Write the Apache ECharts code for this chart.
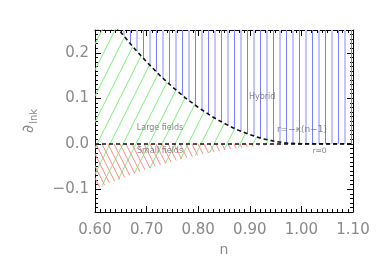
<!DOCTYPE html>
<html><head><meta charset="utf-8">
<script src="https://cdn.jsdelivr.net/npm/echarts@6/dist/echarts.min.js"></script>
<style>html,body{margin:0;padding:0;background:#fff}#c{width:382px;height:273px}</style>
</head><body><div id="c"></div>
<script>
// spectral index n
const nValues = [0.600,0.625,0.650,0.675,0.700,0.725,0.750,0.775,0.800,0.825,0.850,0.875,0.900,0.925,0.950,0.975,1.000,1.025,1.050,1.075,1.100];
// upper boundary (dashed curve, Large fields / Hybrid)
const upperBound = [0.320,0.281,0.245,0.211,0.180,0.151,0.125,0.101,0.080,0.061,0.045,0.031,0.020,0.011,0.005,0.001,0,0,0,0,0];
// lower boundary (Small fields)
const lowerBound = [-0.100,-0.088,-0.077,-0.066,-0.056,-0.047,-0.039,-0.032,-0.025,-0.019,-0.014,-0.010,-0.006,-0.004,-0.002,-0.0004,0,0,0,0,0];
const xTickValues = [0.6,0.7,0.8,0.9,1.0,1.1];
const yTickValues = [-0.1,0.0,0.1,0.2];

function hatch(w,h,draw){
  const c=document.createElement('canvas'); c.width=w; c.height=h;
  const g=c.getContext('2d'); draw(g,w,h); return c;
}
const greenPat = hatch(13,26,(g,w,h)=>{g.strokeStyle='#7cf07c';g.lineWidth=1;g.beginPath();
  for(let k=-1;k<=1;k++){g.moveTo(k*w,h);g.lineTo(k*w+w,0);} g.stroke();});
const redPat = hatch(6,12,(g,w,h)=>{g.strokeStyle='#ff8a8a';g.lineWidth=1;g.beginPath();
  for(let k=-1;k<=1;k++){g.moveTo(k*w,0);g.lineTo(k*w+w,h);} g.stroke();});
const bluePat = hatch(13,4,(g,w,h)=>{g.fillStyle='#7c7cff';g.fillRect(0,0,1,h);
  g.fillStyle='#c4c4ff';g.fillRect(6,0,2,h);});

const pairs = arr => nValues.map((n,i)=>[n,arr[i]]);

const labelFont = {fontFamily:'DejaVu Sans', fontSize:15, color:'#8a8a8a'};
const xBase = {type:'value', min:0.6, max:1.1, interval:0.1, gridIndex:0,
  axisLine:{onZero:false,lineStyle:{color:'#000',width:1}}, splitLine:{show:false},
  axisTick:{inside:true,length:6,lineStyle:{color:'#000'}},
  minorTick:{show:true,splitNumber:10,length:3,lineStyle:{color:'#000'}}};
const yMinor = {type:'value', min:-0.15, max:0.25, interval:0.01, splitLine:{show:false},
  axisLine:{onZero:false,lineStyle:{color:'#000',width:1}},
  axisTick:{inside:true,length:3,lineStyle:{color:'#000'}}};
const yMajor = {type:'value', min:-0.15, max:0.25, splitLine:{show:false},
  axisLine:{show:false,onZero:false}, axisLabel:{show:false},
  axisTick:{inside:true,length:6,customValues:yTickValues,lineStyle:{color:'#000'}}};

const option = {
  animation:false,
  grid:{left:95,right:29,top:30,bottom:61},
  xAxis:[
    Object.assign({}, xBase, {position:'bottom',
      axisLabel:Object.assign({margin:11, formatter:v=>v.toFixed(2)}, labelFont),
      name:'n', nameLocation:'middle', nameGap:28,
      nameTextStyle:{fontFamily:'DejaVu Sans',fontSize:14,color:'#8a8a8a'}}),
    Object.assign({}, xBase, {position:'top', axisLabel:{show:false}})
  ],
  yAxis:[
    Object.assign({}, yMinor, {position:'left',
      axisLabel:Object.assign({margin:6, interval:0, formatter:function(v){
        const r=Math.round(v*10); if(Math.abs(v*10-r)>1e-6) return '';
        return (r<0?'\u2212':'')+(Math.abs(r)/10).toFixed(1);}}, labelFont),
      name:'{a|\u2202}{b|lnk}', nameLocation:'middle', nameGap:56, nameRotate:90,
      nameTextStyle:{color:'#8a8a8a', rich:{
        a:{fontFamily:'DejaVu Sans',fontSize:16,color:'#8a8a8a',verticalAlign:'top'},
        b:{fontFamily:'DejaVu Sans',fontSize:10,color:'#8a8a8a',padding:[8,0,0,1],verticalAlign:'bottom'}}}}),
    Object.assign({}, yMajor, {position:'left'}),
    Object.assign({}, yMinor, {position:'right', axisLabel:{show:false}}),
    Object.assign({}, yMajor, {position:'right'})
  ],
  series:[
    {type:'line', name:'large-upper', data:pairs(upperBound), showSymbol:false, silent:true,
     lineStyle:{opacity:0}, areaStyle:{origin:0,color:{image:greenPat,repeat:'repeat'},opacity:1}, z:1},
    {type:'line', name:'large-lower', data:pairs(lowerBound), showSymbol:false, silent:true,
     lineStyle:{opacity:0}, areaStyle:{origin:0,color:{image:greenPat,repeat:'repeat'},opacity:1}, z:1},
    {type:'line', name:'small', data:pairs(lowerBound), showSymbol:false, silent:true,
     lineStyle:{opacity:0}, areaStyle:{origin:0,color:{image:redPat,repeat:'repeat'},opacity:1}, z:2},
    {type:'line', name:'hybrid', data:pairs(upperBound), showSymbol:false, silent:true,
     lineStyle:{color:'#111',width:1.6,type:[4,3]},
     areaStyle:{origin:'end',color:{image:bluePat,repeat:'repeat'},opacity:1}, z:3,
     markLine:{symbol:'none',silent:true,label:{show:false},
       lineStyle:{color:'#111',width:1.6,type:[4,3]}, data:[{yAxis:0}]}},
    {type:'scatter', symbolSize:0, silent:true, z:5,
     label:{show:true, position:'inside', fontFamily:'DejaVu Sans', fontSize:8, color:'#666'},
     data:[
       {value:[0.924,0.103], label:{formatter:'Hybrid'}},
       {value:[0.726,0.035], label:{formatter:'Large fields'}},
       {value:[0.726,-0.015], label:{formatter:'Small fields'}},
       {value:[1.001,0.031], label:{formatter:'r=\u2212\u03ba(n\u22121)', fontSize:9}},
       {value:[1.035,-0.016], label:{formatter:'r=0', fontSize:7.5}}
     ]}
  ]
};
const chart = echarts.init(document.getElementById('c'), null, {renderer:'canvas'});
chart.setOption(option);
</script></body></html>
